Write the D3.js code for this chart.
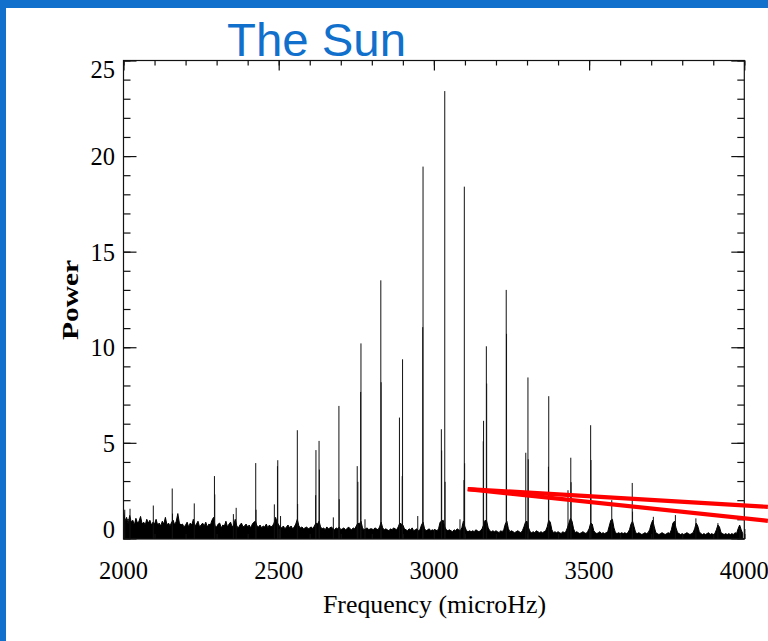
<!DOCTYPE html>
<html>
<head>
<meta charset="utf-8">
<script src="https://cdn.jsdelivr.net/npm/d3@7"></script>
<style>
  html, body { margin: 0; padding: 0; background: #fff; }
  svg { display: block; }
</style>
</head>
<body>
<svg id="chart" width="768" height="641"></svg>
<script>
// ---------------- DATA ----------------
const titleText = "The Sun";
const xLabel = "Frequency (microHz)";
const yLabel = "Power";
const freqTicks = [2000, 2500, 3000, 3500, 4000];
const powerTicks = [0, 5, 10, 15, 20, 25];

// background (noise) level of the spectrum, one value per 5 microHz, 2000..3995
const noiseFreq = d3.range(2000, 4000, 5);
const noisePower = [
  1.45,0.9,1.1,0.75,1.2,0.85,0.95,0.7,1.05,0.8,0.9,1.15,0.75,0.85,0.7,1.0,0.8,0.95,0.7,0.85,
  0.75,1.0,0.7,0.8,0.65,0.9,0.75,1.1,0.7,0.8,0.65,0.85,0.95,0.7,0.9,1.3,0.8,0.7,0.75,0.6,
  0.7,0.85,0.6,0.8,0.7,1.0,0.65,0.75,0.9,0.6,0.7,0.8,0.65,0.85,0.6,0.75,0.7,0.95,1.1,0.65,
  0.6,0.75,0.8,0.55,0.7,0.65,0.9,0.6,0.75,0.85,0.6,0.7,1.0,0.65,0.55,0.7,0.8,0.6,0.65,0.75,
  0.6,0.7,0.55,0.75,0.85,0.9,0.65,0.6,0.7,0.55,0.65,0.6,0.75,0.55,0.7,0.6,0.65,0.8,1.1,0.85,
  0.7,0.6,0.55,0.65,0.5,0.6,0.7,0.55,0.65,0.5,0.6,0.75,1.0,0.65,0.55,0.6,0.5,0.55,0.6,0.5,
  0.55,0.6,0.5,0.65,0.8,0.75,0.9,0.6,0.5,0.55,0.45,0.6,0.5,0.55,0.6,0.5,0.45,0.55,0.5,0.6,
  0.45,0.5,0.55,0.45,0.5,0.6,0.5,0.45,0.55,0.5,0.65,0.8,0.75,0.9,0.55,0.45,0.5,0.55,0.45,0.5,
  0.5,0.45,0.55,0.5,0.45,0.6,0.85,0.55,0.45,0.5,0.45,0.4,0.5,0.45,0.55,0.5,0.45,0.6,0.8,0.75,
  0.7,0.5,0.45,0.4,0.5,0.45,0.55,0.4,0.45,0.5,0.4,0.45,0.7,0.85,0.5,0.4,0.45,0.5,0.4,0.45,
  0.4,0.45,0.4,0.5,0.85,0.9,0.95,0.6,0.45,0.4,0.45,0.4,0.35,0.45,0.4,0.5,0.45,0.4,0.55,0.9,
  0.6,0.4,0.35,0.4,0.35,0.4,0.35,0.45,0.4,0.35,0.4,0.5,0.7,0.95,0.9,0.55,0.4,0.35,0.4,0.35,
  0.4,0.35,0.3,0.4,0.35,0.45,0.75,0.9,0.5,0.35,0.4,0.35,0.3,0.35,0.4,0.35,0.3,0.4,0.6,0.85,
  0.9,0.55,0.35,0.3,0.35,0.3,0.4,0.35,0.3,0.35,0.3,0.35,0.4,0.6,0.95,0.85,0.45,0.3,0.35,0.3,
  0.35,0.3,0.25,0.35,0.3,0.35,0.55,0.8,1.05,0.9,0.5,0.3,0.35,0.3,0.25,0.3,0.35,0.3,0.25,0.35,
  0.5,0.8,0.75,0.4,0.3,0.25,0.3,0.35,0.25,0.3,0.25,0.3,0.35,0.65,0.95,1.0,0.55,0.3,0.25,0.3,
  0.25,0.3,0.25,0.3,0.25,0.3,0.45,0.75,0.9,0.6,0.3,0.25,0.3,0.25,0.2,0.25,0.3,0.25,0.3,0.45,
  0.75,0.95,0.6,0.3,0.25,0.2,0.25,0.3,0.25,0.2,0.25,0.3,0.25,0.45,0.8,0.9,0.55,0.3,0.25,0.2,
  0.25,0.2,0.25,0.3,0.25,0.2,0.25,0.3,0.5,0.8,0.65,0.35,0.25,0.2,0.25,0.2,0.25,0.3,0.2,0.25,
  0.2,0.25,0.45,0.7,0.6,0.3,0.25,0.2,0.25,0.2,0.25,0.2,0.25,0.2,0.3,0.25,0.5,0.7,0.45,0.25
];

// oscillation mode spikes (frequency in microHz)
const spikeFreq = [
  2004,2021,2096,2157,2158,2228,2293,2294,2354,2363,2426,2427,2486,2497,2496,2506,
  2560,2561,2620,2619,2630,2631,2676,2694,2695,2753,2755,2765,2764,2778,2829,2830,
  2889,2899,2898,2948,2965,2964,3024,3025,3035,3036,3084,3098,3099,3097,3160,3159,
  3169,3170,3233,3234,3296,3303,3304,3370,3369,3432,3441,3442,3505,3506,3573,3639,
  3640,3707,3778,3844,3915,3986
];
const spikePower = [
  1.5,1.55,1.72,2.61,1.3,1.83,3.26,2.3,1.27,1.6,3.94,1.5,1.78,4.09,3.78,1.17,
  5.66,1.8,4.62,2.26,5.1,3.6,1.1,6.93,2.05,3.78,2.96,10.2,7.66,1.0,13.5,8.17,
  6.32,9.37,3.26,1.17,19.45,11.05,5.71,4.6,23.4,2.96,1.0,18.4,3.93,3.05,6.15,5.08,
  10.05,8.1,13.0,10.7,4.48,8.42,4.14,7.44,3.75,2.52,4.22,2.94,5.92,4.1,2.0,2.9,
  1.4,1.13,1.22,1.05,0.8,0.55
];

// red annotation lines: common start, two end points
const redStartFreq = 3109, redStartPower = 2.58;
const redEndFreq = [4076, 4076];
const redEndPower = [1.65, 0.92];

// ---------------- DRAW ----------------
const svg = d3.select("#chart");
const W = 768, H = 641;
const pLeft = 123.5, pRight = 744.3, pTop = 60.5, pBottom = 539;

svg.append("rect").attr("width", W).attr("height", H).attr("fill", "#fff");

const x = d3.scaleLinear().domain([2000, 4000]).range([pLeft, pRight]);
const y = d3.scaleLinear().domain([0, 25]).range([538.4, pTop]);

const defs = svg.append("defs");
defs.append("clipPath").attr("id", "plotclip")
  .append("rect").attr("x", pLeft).attr("y", pTop).attr("width", pRight - pLeft).attr("height", pBottom - pTop);

const plot = svg.append("g").attr("clip-path", "url(#plotclip)");

// noise area
const noise = noiseFreq.map((f, i) => ({ f, p: noisePower[i] }));
const area = d3.area()
  .x(d => x(d.f))
  .y0(pBottom)
  .y1(d => y(d.p))
  .curve(d3.curveLinear);
plot.append("path").datum(noise).attr("d", area)
  .attr("fill", "#000").attr("stroke", "#000").attr("stroke-width", 1).attr("stroke-linejoin", "miter");

// spikes
const spikes = spikeFreq.map((f, i) => ({ f, p: spikePower[i] }));
plot.selectAll("line.spike").data(spikes).enter().append("line")
  .attr("class", "spike")
  .attr("x1", d => x(d.f)).attr("x2", d => x(d.f))
  .attr("y1", pBottom).attr("y2", d => y(d.p))
  .attr("stroke", "#111").attr("stroke-width", 1);

// frame
svg.append("rect").attr("x", pLeft).attr("y", pTop).attr("width", pRight - pLeft).attr("height", pBottom - pTop)
  .attr("fill", "none").attr("stroke", "#111").attr("stroke-width", 1.2);

// ticks (inward) using d3 axes
const xMinor = d3.range(2000, 4001, 100);
const yMinor = d3.range(0, 26, 1);

function styleAxis(g) {
  g.select(".domain").remove();
  g.selectAll(".tick line").attr("stroke", "#111").attr("stroke-width", 1.2);
  g.selectAll(".tick text").remove();
}
svg.append("g").attr("transform", `translate(0,${pTop})`)
  .call(d3.axisBottom(x).tickValues(xMinor).tickSize(5)).call(styleAxis);
svg.append("g").attr("transform", `translate(0,${pTop})`)
  .call(d3.axisBottom(x).tickValues(freqTicks).tickSize(10)).call(styleAxis);
svg.append("g").attr("transform", `translate(0,${pBottom})`)
  .call(d3.axisTop(x).tickValues(xMinor).tickSize(5)).call(styleAxis);
svg.append("g").attr("transform", `translate(0,${pBottom})`)
  .call(d3.axisTop(x).tickValues(freqTicks).tickSize(10)).call(styleAxis);
svg.append("g").attr("transform", `translate(${pLeft},0)`)
  .call(d3.axisRight(y).tickValues(yMinor).tickSize(7)).call(styleAxis);
svg.append("g").attr("transform", `translate(${pLeft},0)`)
  .call(d3.axisRight(y).tickValues(powerTicks).tickSize(13)).call(styleAxis);
svg.append("g").attr("transform", `translate(${pRight},0)`)
  .call(d3.axisLeft(y).tickValues(yMinor).tickSize(7)).call(styleAxis);
svg.append("g").attr("transform", `translate(${pRight},0)`)
  .call(d3.axisLeft(y).tickValues(powerTicks).tickSize(13)).call(styleAxis);

const serif = "'Liberation Serif', 'Times New Roman', serif";

svg.selectAll("text.xt").data(freqTicks).enter().append("text")
  .attr("class", "xt")
  .attr("x", d => x(d)).attr("y", 579)
  .attr("text-anchor", "middle")
  .attr("font-family", serif).attr("font-size", 24.5)
  .attr("fill", "#000")
  .text(d => d);

svg.selectAll("text.yt").data(powerTicks).enter().append("text")
  .attr("class", "yt")
  .attr("x", 115)
  .attr("y", d => d === 25 ? y(d) + 17 : d === 0 ? y(d) - 0.5 : y(d) + 9)
  .attr("text-anchor", "end")
  .attr("font-family", serif).attr("font-size", 24.5)
  .attr("fill", "#000")
  .text(d => d);

svg.append("text")
  .attr("x", 434.5).attr("y", 613)
  .attr("text-anchor", "middle")
  .attr("font-family", serif).attr("font-size", 25)
  .attr("textLength", 223).attr("lengthAdjust", "spacingAndGlyphs")
  .attr("fill", "#000")
  .text(xLabel);

svg.append("text")
  .attr("transform", "translate(78,300) rotate(-90)")
  .attr("text-anchor", "middle")
  .attr("font-family", serif).attr("font-size", 24).attr("font-weight", "bold")
  .attr("textLength", 80).attr("lengthAdjust", "spacingAndGlyphs")
  .attr("fill", "#000")
  .text(yLabel);

redEndFreq.forEach((ef, i) => {
  svg.append("line")
    .attr("x1", x(redStartFreq)).attr("y1", y(redStartPower))
    .attr("x2", x(ef)).attr("y2", y(redEndPower[i]))
    .attr("stroke", "#ff0000").attr("stroke-width", 4.2)
    .attr("stroke-linecap", "butt");
});

svg.append("rect").attr("x", 0).attr("y", 0).attr("width", W).attr("height", 8).attr("fill", "#1170CC");
svg.append("rect").attr("x", 0).attr("y", 0).attr("width", 6).attr("height", H).attr("fill", "#1170CC");

svg.append("text")
  .attr("x", 227).attr("y", 56)
  .attr("font-family", "'Liberation Sans', Arial, sans-serif").attr("font-size", 47)
  .attr("textLength", 179).attr("lengthAdjust", "spacingAndGlyphs")
  .attr("fill", "#1170CC")
  .text(titleText);
</script>
</body>
</html>
